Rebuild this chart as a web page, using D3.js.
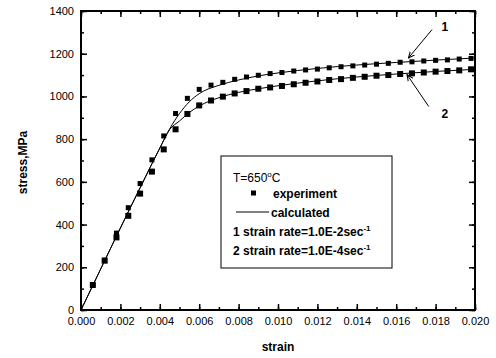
<!DOCTYPE html>
<html>
<head>
<meta charset="utf-8">
<script src="https://cdn.jsdelivr.net/npm/d3@7"></script>
<style>
  body { margin: 0; background: #fff; }
  svg { font-family: "Liberation Sans", Arial, sans-serif; }
</style>
</head>
<body>
<div id="chart"></div>
<script>
// measured points, strain step 0.0006
var strainExp = [0.0006,0.0012,0.0018,0.0024,0.0030,0.0036,0.0042,0.0048,0.0054,0.0060,
                 0.0066,0.0072,0.0078,0.0084,0.0090,0.0096,0.0102,0.0108,0.0114,0.0120,
                 0.0126,0.0132,0.0138,0.0144,0.0150,0.0156,0.0162,0.0168,0.0174,0.0180,
                 0.0186,0.0192,0.0198];
var stressExp1 = [118,233,360,479,592,703,815,920,991,1033,1053,1066,1080,1091,1099,1107,1112,
                  1119,1124,1128,1134,1139,1143,1147,1151,1155,1160,1162,1166,1169,1171,1175,1178];
var stressExp2 = [117,231,340,441,545,648,752,846,918,958,981,999,1014,1025,1036,1042,1049,
                  1057,1064,1070,1077,1081,1087,1092,1097,1100,1105,1108,1112,1116,1119,1122,1127];

// calculated curves
var strainCalc = [0,0.001,0.002,0.003,0.004,0.0045,0.005,0.0055,0.006,0.007,0.008,0.009,0.010,0.012,0.014,0.016,0.018,0.020];
var stressCalc1 = [0,192,384,572,758,848,920,975,1013,1052,1077,1096,1110,1131,1147,1159,1170,1180];
var stressCalc2 = [0,192,384,572,758,845,885,925,955,994,1019,1036,1050,1073,1091,1105,1117,1127];

var xTicks = [0,0.002,0.004,0.006,0.008,0.010,0.012,0.014,0.016,0.018,0.020];
var yTicks = [0,200,400,600,800,1000,1200,1400];
var legendLines = ["1 strain rate=1.0E-2sec", "2 strain rate=1.0E-4sec"];

var width = 496, height = 358;
var margin = {left: 81, top: 11, right: 21, bottom: 48};
var w = width - margin.left - margin.right;
var h = height - margin.top - margin.bottom;

var svg = d3.select("#chart").append("svg").attr("width", width).attr("height", height);
var g = svg.append("g").attr("transform", "translate(" + margin.left + "," + margin.top + ")");

var x = d3.scaleLinear().domain([0, 0.020]).range([0, w]);
var y = d3.scaleLinear().domain([0, 1400]).range([h, 0]);

var xMinor = d3.range(0, 0.0201, 0.001);
var yMinor = d3.range(0, 1401, 100);

// bottom axis, ticks inside
var xAxis = d3.axisBottom(x).tickValues(xTicks).tickFormat(d3.format(".3f")).tickSize(-6).tickPadding(7);
var gx = g.append("g").attr("transform", "translate(0," + h + ")").call(xAxis);
gx.selectAll("text").style("font-size", "11px").attr("fill", "#000");

var yAxis = d3.axisLeft(y).tickValues(yTicks).tickFormat(d3.format("d")).tickSize(-6).tickPadding(7);
var gy = g.append("g").call(yAxis);
gy.selectAll("text").style("font-size", "11px").attr("fill", "#000");

// top and right, ticks only
g.append("g").call(d3.axisTop(x).tickValues(xTicks).tickSize(-6).tickFormat(""));
g.append("g").attr("transform", "translate(" + w + ",0)").call(d3.axisRight(y).tickValues(yTicks).tickSize(-6).tickFormat(""));

// minor ticks
g.append("g").attr("transform", "translate(0," + h + ")").call(d3.axisBottom(x).tickValues(xMinor).tickSize(-3).tickFormat(""));
g.append("g").call(d3.axisTop(x).tickValues(xMinor).tickSize(-3).tickFormat(""));
g.append("g").call(d3.axisLeft(y).tickValues(yMinor).tickSize(-3).tickFormat(""));
g.append("g").attr("transform", "translate(" + w + ",0)").call(d3.axisRight(y).tickValues(yMinor).tickSize(-3).tickFormat(""));

g.selectAll(".domain").remove();
g.selectAll(".tick line").attr("stroke", "#000").attr("stroke-width", 1.5);

// frame
g.append("rect").attr("x", 0).attr("y", 0).attr("width", w).attr("height", h)
  .attr("fill", "none").attr("stroke", "#000").attr("stroke-width", 2);

// calculated lines
var line = d3.line().x(function(d){ return x(d[0]); }).y(function(d){ return y(d[1]); }).curve(d3.curveMonotoneX);
[stressCalc1, stressCalc2].forEach(function(s){
  g.append("path")
    .datum(strainCalc.map(function(e, i){ return [e, s[i]]; }))
    .attr("d", line).attr("fill", "none").attr("stroke", "#000").attr("stroke-width", 1);
});

// experiment markers
function drawMarkers(vals, size){
  g.selectAll(null).data(strainExp).enter().append("rect")
    .attr("x", function(d){ return x(d) - size / 2; })
    .attr("y", function(d, i){ return y(vals[i]) - size / 2; })
    .attr("width", size).attr("height", size)
    .attr("fill", "#000");
}
drawMarkers(stressExp1, 5);
drawMarkers(stressExp2, 6);

// arrows with curve numbers
svg.append("defs").append("marker").attr("id", "arr")
  .attr("viewBox", "0 0 10 10").attr("refX", 9).attr("refY", 5)
  .attr("markerWidth", 7).attr("markerHeight", 7).attr("orient", "auto")
  .append("path").attr("d", "M0,1 L9,5 L0,9").attr("fill", "none").attr("stroke", "#000").attr("stroke-width", 1.5);

var arrows = [
  {label: "1", from: [0.01782, 1313], to: [0.01662, 1180], text: [0.0183, 1305]},
  {label: "2", from: [0.01765, 953], to: [0.01655, 1102], text: [0.0183, 898]}
];
arrows.forEach(function(a){
  g.append("line")
    .attr("x1", x(a.from[0])).attr("y1", y(a.from[1]))
    .attr("x2", x(a.to[0])).attr("y2", y(a.to[1]))
    .attr("stroke", "#000").attr("stroke-width", 1).attr("marker-end", "url(#arr)");
  g.append("text").attr("x", x(a.text[0])).attr("y", y(a.text[1]))
    .style("font-size", "12px").style("font-weight", "bold").text(a.label);
});

// legend
var lg = g.append("g").attr("transform", "translate(140,145)");
lg.append("rect").attr("width", 171).attr("height", 112)
  .attr("fill", "#fff").attr("stroke", "#000").attr("stroke-width", 1);
var t = lg.append("text").attr("x", 12).attr("y", 26).style("font-size", "12px");
t.append("tspan").text("T=650");
t.append("tspan").attr("dy", -5).style("font-size", "8px").text("o");
t.append("tspan").attr("dy", 5).text("C");
lg.append("rect").attr("x", 30).attr("y", 34.5).attr("width", 5).attr("height", 5).attr("fill", "#000");
lg.append("text").attr("x", 52).attr("y", 41.5).style("font-size", "12px").style("font-weight", "bold").text("experiment");
lg.append("line").attr("x1", 15).attr("x2", 48).attr("y1", 56).attr("y2", 56).attr("stroke", "#000");
lg.append("text").attr("x", 50).attr("y", 60.5).style("font-size", "12px").style("font-weight", "bold").text("calculated");
legendLines.forEach(function(s, i){
  var tt = lg.append("text").attr("x", 12).attr("y", 80 + i * 18.5).style("font-size", "12px").style("font-weight", "bold");
  tt.append("tspan").text(s);
  tt.append("tspan").attr("dy", -5).style("font-size", "8px").text("-1");
});

// axis titles
svg.append("text").attr("x", margin.left + w / 2 + 0).attr("y", 351)
  .attr("text-anchor", "middle").style("font-size", "12px").style("font-weight", "bold").text("strain");
svg.append("text").attr("transform", "translate(27," + (margin.top + h / 2 + 2) + ") rotate(-90)")
  .attr("text-anchor", "middle").style("font-size", "12px").style("font-weight", "bold").text("stress,MPa");
</script>
</body>
</html>
